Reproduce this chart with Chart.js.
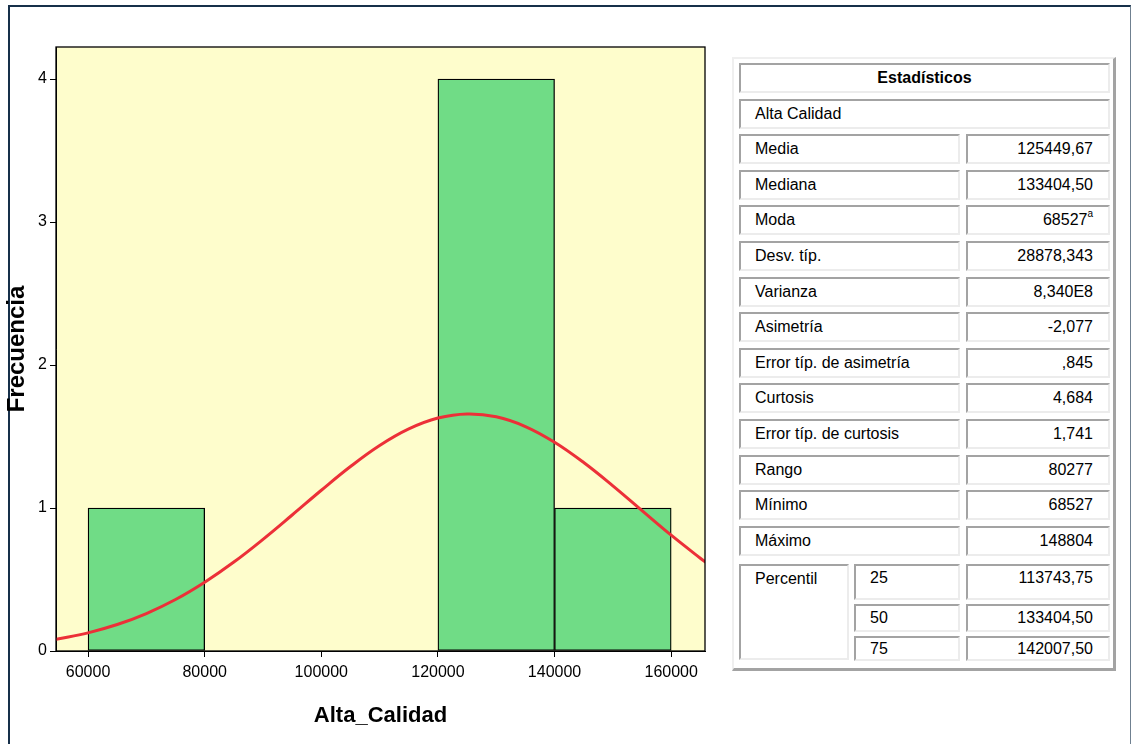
<!DOCTYPE html>
<html>
<head>
<meta charset="utf-8">
<script src="https://cdn.jsdelivr.net/npm/chart.js@4/dist/chart.umd.min.js"></script>
<style>
  html, body { margin: 0; padding: 0; background: #fff; width: 1131px; height: 744px; overflow: hidden; font-family: "Liberation Sans", Arial, sans-serif; }
  #frame { position: absolute; left: 8px; top: 5px; width: 1120px; height: 760px; border-top: 2px solid #17304a; border-left: 2px solid #17304a; border-right: 1px solid #6f8090; }
  #chartWrap { position: absolute; left: 0; top: 0; width: 720px; height: 744px; }
  #tbl { position: absolute; left: 732px; top: 57px; width: 379px; height: 609px; border-top: 2px solid #efefef; border-left: 2px solid #efefef; border-right: 3px solid #a3a3a3; border-bottom: 3px solid #a3a3a3; }
  .cell { position: absolute; box-sizing: border-box; border-top: 2px solid #a3a3a3; border-left: 2px solid #a3a3a3; border-right: 2px solid #ececec; border-bottom: 2px solid #ececec; font-size: 16px; color: #000; white-space: nowrap; }
  .lbl { padding-left: 14px; }
  .val { text-align: right; padding-right: 15px; }
  sup { font-size: 10px; vertical-align: 8px; line-height: 0; }
</style>
</head>
<body>
<div id="frame"></div>
<div id="chartWrap"><canvas id="c" width="720" height="744"></canvas></div>
<div id="cells"></div>
<div id="tbl"></div>
<script>
// ---- Histogram data ----
const binStart = [60000, 120000, 140000];
const binEnd = [80000, 140000, 160000];
const frequencies = [1, 4, 1];
const xTickValues = [60000, 80000, 100000, 120000, 140000, 160000];
const yTickValues = [0, 1, 2, 3, 4];

// ---- Normal curve ----
const curveX = [54000, 55000, 60000, 65000, 70000, 75000, 80000, 85000, 90000, 95000, 100000, 105000, 110000, 115000, 120000, 125000, 130000, 135000, 140000, 145000, 150000, 155000, 160000, 165000, 166000];
const curveY = [0.078, 0.085, 0.127, 0.185, 0.262, 0.36, 0.481, 0.622, 0.781, 0.951, 1.124, 1.29, 1.437, 1.553, 1.629, 1.658, 1.638, 1.57, 1.46, 1.318, 1.155, 0.982, 0.81, 0.649, 0.619];

// ---- Statistics table ----
const tableTitle = "Estadísticos";
const variableName = "Alta Calidad";
const statLabels = ["Media", "Mediana", "Moda", "Desv. típ.", "Varianza", "Asimetría", "Error típ. de asimetría", "Curtosis", "Error típ. de curtosis", "Rango", "Mínimo", "Máximo"];
const statValues = ["125449,67", "133404,50", "68527", "28878,343", "8,340E8", "-2,077", ",845", "4,684", "1,741", "80277", "68527", "148804"];
const statNotes = ["", "", "a", "", "", "", "", "", "", "", "", ""];
const percentilLabel = "Percentil";
const percentilKeys = ["25", "50", "75"];
const percentilValues = ["113743,75", "133404,50", "142007,50"];

// ---- Build table ----
(function () {
  const host = document.getElementById('cells');
  function cell(x, y, w, h, html, cls, extra) {
    const d = document.createElement('div');
    d.className = 'cell ' + cls;
    d.style.left = x + 'px'; d.style.top = y + 'px';
    d.style.width = w + 'px'; d.style.height = h + 'px';
    d.style.lineHeight = (h - 4) + 'px';
    if (extra) Object.assign(d.style, extra);
    d.innerHTML = html;
    host.appendChild(d);
    return d;
  }
  const L = 739, R = 1110, MID = 960, VAL = 966, PCOL = 849, NCOL = 854;
  const pitch = 35.6, top0 = 63, h = 30;
  cell(L, top0, R - L, h, '<b>' + tableTitle + '</b>', '', { textAlign: 'center' });
  cell(L, Math.round(top0 + pitch), R - L, h, variableName, 'lbl');
  statLabels.forEach((lab, i) => {
    const y = Math.round(top0 + pitch * (i + 2));
    cell(L, y, MID - L, h, lab, 'lbl');
    const note = statNotes[i] ? '<sup>' + statNotes[i] + '</sup>' : '';
    cell(VAL, y, R - VAL, h, statValues[i] + note, 'val');
  });
  const pTop = 564;
  const pRows = [[pTop, 36], [604, 28], [636, 25]];
  cell(L, pTop, PCOL - L, 660 - pTop, percentilLabel, 'lbl', { lineHeight: '24px', paddingTop: '1px' });
  percentilKeys.forEach((k, i) => {
    const [y, hh] = pRows[i];
    const extra = i === 0 ? { lineHeight: '24px' } : null;
    cell(NCOL, y, MID - NCOL, hh, k, 'lbl', extra);
    cell(VAL, y, R - VAL, hh, percentilValues[i], 'val', extra);
  });
})();

// ---- Chart ----
const FONT = "'Liberation Sans', Arial, sans-serif";
const areaPlugin = {
  id: 'area',
  beforeDraw(chart) {
    const { ctx, chartArea: a } = chart;
    ctx.save();
    ctx.fillStyle = '#fefdcc';
    ctx.fillRect(a.left, a.top, a.right - a.left, a.bottom - a.top);
    ctx.restore();
  },
  afterDraw(chart) {
    const { ctx, chartArea: a } = chart;
    ctx.save();
    ctx.strokeStyle = '#000';
    ctx.lineWidth = 1.3;
    ctx.strokeRect(a.left, a.top, a.right - a.left, a.bottom - a.top);
    ctx.restore();
  }
};

new Chart(document.getElementById('c'), {
  type: 'bar',
  data: {
    datasets: [
      {
        type: 'line',
        data: curveX.map((x, i) => ({ x: x, y: curveY[i] })),
        borderColor: '#ec3038',
        borderWidth: 3,
        pointRadius: 0,
        tension: 0.4,
        fill: false,
        order: 0
      },
      {
        type: 'bar',
        data: binStart.map((s, i) => ({ x: (s + binEnd[i]) / 2, y: frequencies[i] })),
        backgroundColor: '#70dc86',
        borderColor: '#000',
        borderWidth: 1.3,
        borderSkipped: false,
        barPercentage: 1,
        categoryPercentage: 1,
        order: 1
      }
    ]
  },
  options: {
    responsive: false,
    devicePixelRatio: 1,
    animation: false,
    layout: { padding: { top: 47, right: 15, left: 0, bottom: 0 } },
    plugins: { legend: { display: false }, tooltip: { enabled: false } },
    scales: {
      x: {
        type: 'linear',
        min: 54500,
        max: 165800,
        offset: false,
        afterBuildTicks: (s) => { s.ticks = xTickValues.map(v => ({ value: v })); },
        afterFit: (s) => { s.height = 93; },
        grid: { display: true, drawOnChartArea: false, tickLength: 6, tickColor: '#000', offset: false },
        border: { display: true, color: '#000', width: 1 },
        ticks: { color: '#000', font: { family: FONT, size: 16 }, padding: 6, maxRotation: 0, callback: v => String(v) },
        title: { display: true, text: 'Alta_Calidad', color: '#000', font: { family: FONT, size: 22, weight: 'bold' }, padding: { top: 0, bottom: 15 } }
      },
      y: {
        type: 'linear',
        min: 0,
        max: 4.224,
        afterBuildTicks: (s) => { s.ticks = yTickValues.map(v => ({ value: v })); },
        afterFit: (s) => { s.width = 56; },
        grid: { display: true, drawOnChartArea: false, tickLength: 6, tickColor: '#000' },
        border: { display: true, color: '#000', width: 1 },
        ticks: { color: '#000', font: { family: FONT, size: 16 }, padding: 3 },
        title: { display: true, text: 'Frecuencia', color: '#000', font: { family: FONT, size: 24, weight: 'bold' }, padding: { top: 3, bottom: 0 } }
      }
    }
  },
  plugins: [areaPlugin]
});
</script>
</body>
</html>
